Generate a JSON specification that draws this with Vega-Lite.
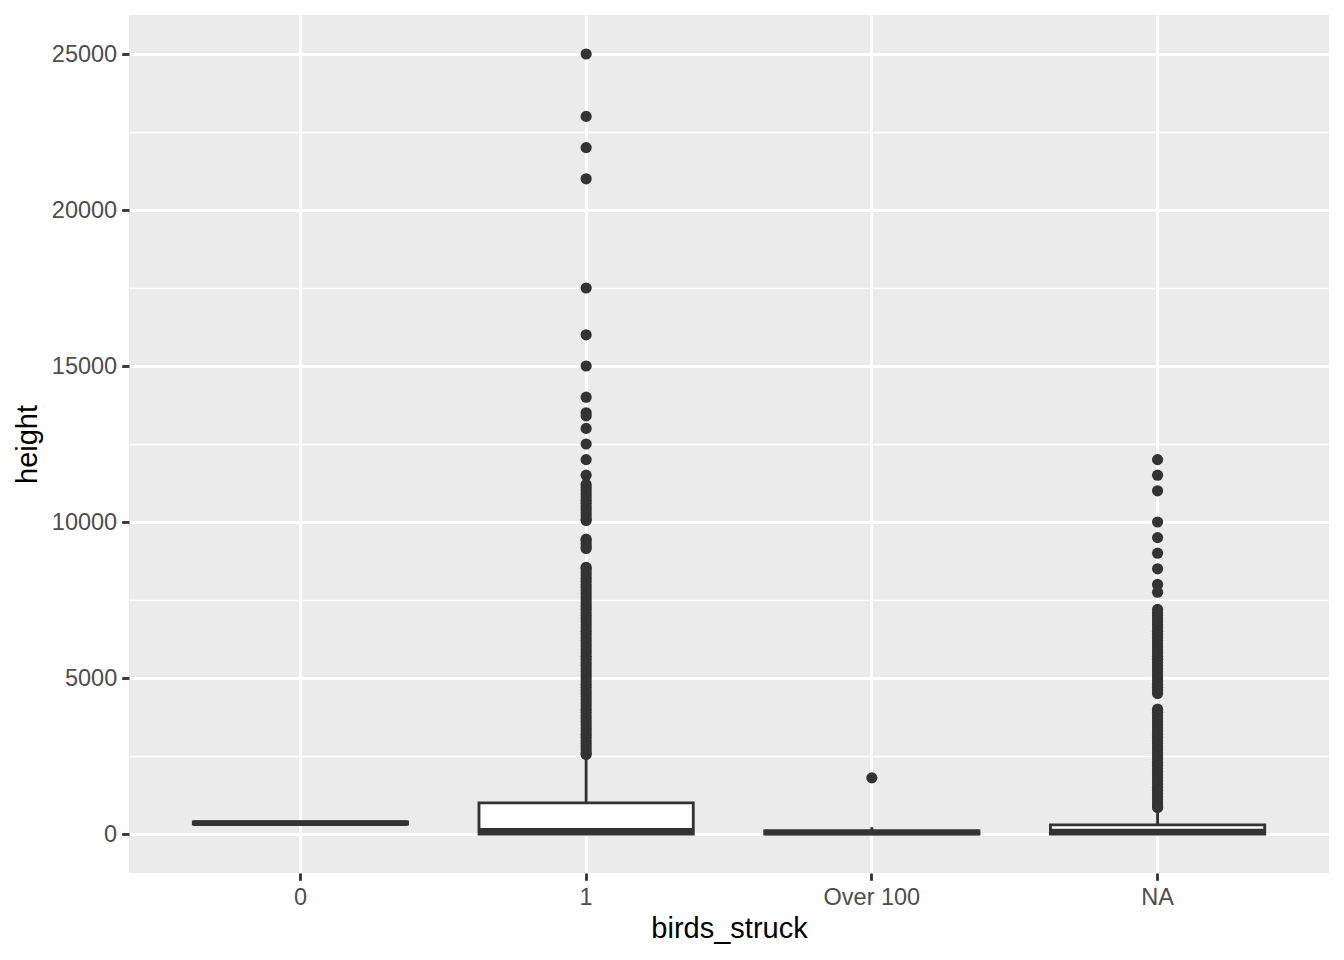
{
  "$schema": "https://vega.github.io/schema/vega-lite/v6.json",
  "width": 1200,
  "height": 858,
  "autosize": {"type": "none"},
  "padding": {"left": 129, "top": 15, "right": 15, "bottom": 87},
  "background": "white",
  "config": {
    "view": {"fill": "#EBEBEB", "stroke": null},
    "font": "Liberation Sans"
  },
  "datasets": {
    "stats": [
      {"birds_struck": "0", "lower": 280, "q1": 320, "median": 350, "q3": 390, "upper": 420},
      {"birds_struck": "1", "lower": 0, "q1": 0, "median": 100, "q3": 1000, "upper": 2500},
      {"birds_struck": "Over 100", "lower": 0, "q1": 0, "median": 50, "q3": 100, "upper": 220},
      {"birds_struck": "NA", "lower": 0, "q1": 0, "median": 80, "q3": 290, "upper": 700}
    ],
    "outliers": [
      {"birds_struck": "1", "height": 25000}, {"birds_struck": "1", "height": 23000}, {"birds_struck": "1", "height": 22000},
      {"birds_struck": "1", "height": 21000}, {"birds_struck": "1", "height": 17500}, {"birds_struck": "1", "height": 16000},
      {"birds_struck": "1", "height": 15000}, {"birds_struck": "1", "height": 14000}, {"birds_struck": "1", "height": 13500},
      {"birds_struck": "1", "height": 13400}, {"birds_struck": "1", "height": 13000}, {"birds_struck": "1", "height": 12500},
      {"birds_struck": "1", "height": 12000}, {"birds_struck": "1", "height": 11500}, {"birds_struck": "1", "height": 11200},
      {"birds_struck": "1", "height": 11100}, {"birds_struck": "1", "height": 11000}, {"birds_struck": "1", "height": 10900},
      {"birds_struck": "1", "height": 10800}, {"birds_struck": "1", "height": 10700}, {"birds_struck": "1", "height": 10600},
      {"birds_struck": "1", "height": 10500}, {"birds_struck": "1", "height": 10400}, {"birds_struck": "1", "height": 10300},
      {"birds_struck": "1", "height": 10200}, {"birds_struck": "1", "height": 10100}, {"birds_struck": "1", "height": 10050},
      {"birds_struck": "1", "height": 9450}, {"birds_struck": "1", "height": 9400}, {"birds_struck": "1", "height": 9300},
      {"birds_struck": "1", "height": 9200}, {"birds_struck": "1", "height": 9150}, {"birds_struck": "1", "height": 8550},
      {"birds_struck": "1", "height": 8500}, {"birds_struck": "1", "height": 8400}, {"birds_struck": "1", "height": 8300},
      {"birds_struck": "1", "height": 8200}, {"birds_struck": "1", "height": 8100}, {"birds_struck": "1", "height": 8000},
      {"birds_struck": "1", "height": 7900}, {"birds_struck": "1", "height": 7800}, {"birds_struck": "1", "height": 7700},
      {"birds_struck": "1", "height": 7600}, {"birds_struck": "1", "height": 7500}, {"birds_struck": "1", "height": 7400},
      {"birds_struck": "1", "height": 7300}, {"birds_struck": "1", "height": 7200}, {"birds_struck": "1", "height": 7100},
      {"birds_struck": "1", "height": 7000}, {"birds_struck": "1", "height": 6900}, {"birds_struck": "1", "height": 6800},
      {"birds_struck": "1", "height": 6700}, {"birds_struck": "1", "height": 6600}, {"birds_struck": "1", "height": 6500},
      {"birds_struck": "1", "height": 6400}, {"birds_struck": "1", "height": 6300}, {"birds_struck": "1", "height": 6200},
      {"birds_struck": "1", "height": 6100}, {"birds_struck": "1", "height": 6000}, {"birds_struck": "1", "height": 5900},
      {"birds_struck": "1", "height": 5800}, {"birds_struck": "1", "height": 5700}, {"birds_struck": "1", "height": 5600},
      {"birds_struck": "1", "height": 5500}, {"birds_struck": "1", "height": 5400}, {"birds_struck": "1", "height": 5300},
      {"birds_struck": "1", "height": 5200}, {"birds_struck": "1", "height": 5100}, {"birds_struck": "1", "height": 5000},
      {"birds_struck": "1", "height": 4900}, {"birds_struck": "1", "height": 4800}, {"birds_struck": "1", "height": 4700},
      {"birds_struck": "1", "height": 4600}, {"birds_struck": "1", "height": 4500}, {"birds_struck": "1", "height": 4400},
      {"birds_struck": "1", "height": 4300}, {"birds_struck": "1", "height": 4200}, {"birds_struck": "1", "height": 4100},
      {"birds_struck": "1", "height": 4000}, {"birds_struck": "1", "height": 3900}, {"birds_struck": "1", "height": 3800},
      {"birds_struck": "1", "height": 3700}, {"birds_struck": "1", "height": 3600}, {"birds_struck": "1", "height": 3500},
      {"birds_struck": "1", "height": 3400}, {"birds_struck": "1", "height": 3300}, {"birds_struck": "1", "height": 3200},
      {"birds_struck": "1", "height": 3100}, {"birds_struck": "1", "height": 3000}, {"birds_struck": "1", "height": 2900},
      {"birds_struck": "1", "height": 2800}, {"birds_struck": "1", "height": 2700}, {"birds_struck": "1", "height": 2600},
      {"birds_struck": "1", "height": 2550},
      {"birds_struck": "Over 100", "height": 1800},
      {"birds_struck": "NA", "height": 12000}, {"birds_struck": "NA", "height": 11500}, {"birds_struck": "NA", "height": 11000},
      {"birds_struck": "NA", "height": 10000}, {"birds_struck": "NA", "height": 9500}, {"birds_struck": "NA", "height": 9000},
      {"birds_struck": "NA", "height": 8500}, {"birds_struck": "NA", "height": 8000}, {"birds_struck": "NA", "height": 7750},
      {"birds_struck": "NA", "height": 7200}, {"birds_struck": "NA", "height": 7100}, {"birds_struck": "NA", "height": 7000},
      {"birds_struck": "NA", "height": 6900}, {"birds_struck": "NA", "height": 6800}, {"birds_struck": "NA", "height": 6700},
      {"birds_struck": "NA", "height": 6600}, {"birds_struck": "NA", "height": 6500}, {"birds_struck": "NA", "height": 6400},
      {"birds_struck": "NA", "height": 6300}, {"birds_struck": "NA", "height": 6200}, {"birds_struck": "NA", "height": 6100},
      {"birds_struck": "NA", "height": 6000}, {"birds_struck": "NA", "height": 5900}, {"birds_struck": "NA", "height": 5800},
      {"birds_struck": "NA", "height": 5700}, {"birds_struck": "NA", "height": 5600}, {"birds_struck": "NA", "height": 5500},
      {"birds_struck": "NA", "height": 5400}, {"birds_struck": "NA", "height": 5300}, {"birds_struck": "NA", "height": 5200},
      {"birds_struck": "NA", "height": 5100}, {"birds_struck": "NA", "height": 5000}, {"birds_struck": "NA", "height": 4900},
      {"birds_struck": "NA", "height": 4800}, {"birds_struck": "NA", "height": 4700}, {"birds_struck": "NA", "height": 4600},
      {"birds_struck": "NA", "height": 4500}, {"birds_struck": "NA", "height": 4000}, {"birds_struck": "NA", "height": 3900},
      {"birds_struck": "NA", "height": 3800}, {"birds_struck": "NA", "height": 3700}, {"birds_struck": "NA", "height": 3600},
      {"birds_struck": "NA", "height": 3500}, {"birds_struck": "NA", "height": 3400}, {"birds_struck": "NA", "height": 3300},
      {"birds_struck": "NA", "height": 3200}, {"birds_struck": "NA", "height": 3100}, {"birds_struck": "NA", "height": 3000},
      {"birds_struck": "NA", "height": 2900}, {"birds_struck": "NA", "height": 2800}, {"birds_struck": "NA", "height": 2700},
      {"birds_struck": "NA", "height": 2600}, {"birds_struck": "NA", "height": 2500}, {"birds_struck": "NA", "height": 2400},
      {"birds_struck": "NA", "height": 2300}, {"birds_struck": "NA", "height": 2200}, {"birds_struck": "NA", "height": 2100},
      {"birds_struck": "NA", "height": 2000}, {"birds_struck": "NA", "height": 1900}, {"birds_struck": "NA", "height": 1800},
      {"birds_struck": "NA", "height": 1700}, {"birds_struck": "NA", "height": 1600}, {"birds_struck": "NA", "height": 1500},
      {"birds_struck": "NA", "height": 1400}, {"birds_struck": "NA", "height": 1300}, {"birds_struck": "NA", "height": 1200},
      {"birds_struck": "NA", "height": 1100}, {"birds_struck": "NA", "height": 1000}, {"birds_struck": "NA", "height": 900},
      {"birds_struck": "NA", "height": 850}
    ]
  },
  "encoding": {
    "x": {
      "field": "birds_struck",
      "type": "nominal",
      "sort": ["0", "1", "Over 100", "NA"],
      "scale": {"type": "band", "paddingInner": 0.25, "paddingOuter": 0.225},
      "axis": {
        "title": "birds_struck",
        "bandPosition": 0.5,
        "labelAngle": 0,
        "grid": true,
        "gridColor": "white",
        "gridWidth": 2.84,
        "domain": false,
        "tickColor": "#333333",
        "tickSize": 7.3,
        "tickWidth": 2.84,
        "labelColor": "#4D4D4D",
        "labelFontSize": 23.5,
        "labelPadding": 5,
        "titleFontSize": 29,
        "titleColor": "black",
        "titleFontWeight": "normal",
        "titlePadding": 6
      }
    }
  },
  "layer": [
    {
      "data": {"name": "stats"},
      "mark": {"type": "rule", "color": "#333333", "strokeWidth": 2.84},
      "encoding": {
        "y": {
          "field": "lower",
          "type": "quantitative",
          "scale": {"domain": [-1250, 26250], "nice": false, "zero": false},
          "axis": {
            "orient": "left",
            "values": [2500, 7500, 12500, 17500, 22500],
            "grid": true,
            "gridColor": "white",
            "gridWidth": 1.42,
            "labels": false,
            "ticks": false,
            "domain": false,
            "title": null
          }
        },
        "y2": {"field": "upper"}
      }
    },
    {
      "data": {"name": "stats"},
      "mark": {"type": "rect", "fill": "white", "stroke": "#333333", "strokeWidth": 2.84},
      "encoding": {
        "y": {
          "field": "q1",
          "type": "quantitative",
          "scale": {"domain": [-1250, 26250], "nice": false, "zero": false},
          "axis": {
            "orient": "left",
            "title": "height",
            "values": [0, 5000, 10000, 15000, 20000, 25000],
            "format": "d",
            "grid": true,
            "gridColor": "white",
            "gridWidth": 2.84,
            "domain": false,
            "tickColor": "#333333",
            "tickSize": 7.3,
            "tickWidth": 2.84,
            "labelColor": "#4D4D4D",
            "labelFontSize": 23.5,
            "labelPadding": 5,
            "titleFontSize": 29,
            "titleColor": "black",
            "titleFontWeight": "normal",
            "titlePadding": 9
          }
        },
        "y2": {"field": "q3"}
      }
    },
    {
      "data": {"name": "stats"},
      "mark": {"type": "rect", "fill": "#333333", "stroke": "#333333", "strokeWidth": 5.7},
      "encoding": {
        "y": {"field": "median", "type": "quantitative", "axis": null},
        "y2": {"field": "median"}
      }
    },
    {
      "data": {"name": "outliers"},
      "mark": {"type": "circle", "color": "#333333", "opacity": 1, "size": 125},
      "encoding": {
        "y": {"field": "height", "type": "quantitative", "axis": null}
      }
    }
  ],
  "resolve": {"axis": {"y": "independent"}}
}
